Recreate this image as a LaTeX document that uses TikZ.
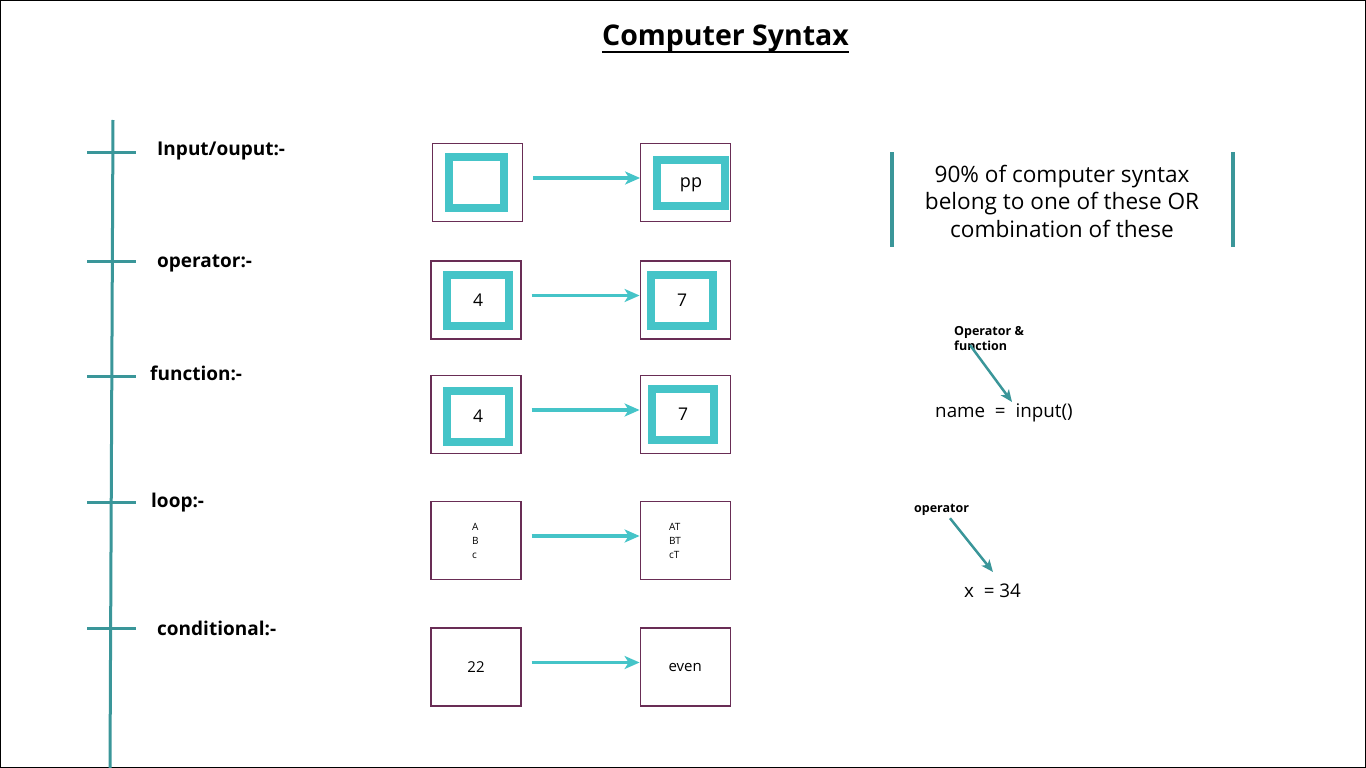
\documentclass[tikz,border=0pt]{standalone}
\usepackage{fontspec}
\setmainfont{Open Sans}
\usepackage{xcolor}
\usepackage{tikz}
\usetikzlibrary{positioning, arrows.meta, calc}
\definecolor{syntaxteal}{RGB}{58, 150, 153}
\definecolor{syntaxcyan}{RGB}{69, 196, 200}
\definecolor{syntaxplum}{RGB}{105, 45, 85}

\tikzset{
  outerbox/.style={draw=syntaxplum, line width=1.2pt, minimum width=90pt, minimum height=78pt, inner sep=0pt, font=\fontsize{15}{18}\selectfont},
  innerbox/.style={draw=syntaxcyan, line width=8pt, minimum width=62pt, minimum height=51pt, inner sep=0pt, font=\fontsize{17.5}{20}\selectfont},
  steplabel/.style={anchor=base west, inner sep=0pt, font=\bfseries\fontsize{19}{23}\selectfont},
  flowarrow/.style={draw=syntaxcyan, line width=3.5pt, shorten <=10pt, -{Stealth[length=15pt, width=13pt, inset=4pt]}},
  tagarrow/.style={draw=syntaxteal, line width=2.5pt, -{Stealth[length=12pt, width=10pt, inset=3pt]}},
  tagtext/.style={inner sep=0pt, align=left, font=\bfseries\fontsize{12.5}{15.5}\selectfont},
  codetext/.style={anchor=base west, inner sep=0pt, font=\fontsize{18.8}{22}\selectfont}
}

\begin{document}
\begin{tikzpicture}[x=1pt, y=-1pt]
    \useasboundingbox (0,0) rectangle (1366,768);
    \draw[line width=1pt] (0.5,0.5) rectangle (1365.5,767.5);

    % heading
    \node[anchor=base, inner sep=0pt, font=\bfseries\fontsize{28.5}{34}\selectfont] (title) at (725.5,46) {Computer Syntax};
    \draw[line width=2pt] ([yshift=-6.5pt]title.base west) -- ([yshift=-6.5pt]title.base east);

    % timeline with the five kinds
    \draw[syntaxteal, line width=3pt] (113,120) -- (110,768);
    \foreach \y in {152, 261, 376, 502, 628}
        \draw[syntaxteal, line width=3pt] (87,\y) -- (136,\y);

    \node[steplabel] (lblio) at (157,155) {Input/ouput:-};
    \node[steplabel] (lblop) at (157,267) {operator:-};
    \node[steplabel] (lblfn) at (150,380) {function:-};
    \node[steplabel] (lblloop) at (151,507) {loop:-};
    \node[steplabel] (lblcond) at (157,635) {conditional:-};

    % example boxes
    \node[outerbox] (in1) at (477.5,182.5) {};
    \node[outerbox, right=117pt of in1] (out1) {};
    \node[outerbox] (in2) at (476,300) {};
    \node[outerbox, right=118pt of in2] (out2) {};
    \node[outerbox] (in3) at (476,414.5) {};
    \node[outerbox, right=118pt of in3] (out3) {};
    \node[outerbox, align=left, text width=8pt, font=\fontsize{10}{14}\selectfont] (in4) at (476,540.5) {A\\B\\c};
    \node[outerbox, right=118pt of in4, align=left, text width=32pt, font=\fontsize{10}{14}\selectfont] (out4) {AT\\BT\\cT};
    \node[outerbox] (in5) at (476,667) {22};
    \node[outerbox, right=118pt of in5] (out5) {even};

    \node[innerbox, minimum width=55pt] (in1i) at (476.5,182.5) {};
    \node[innerbox, minimum width=68pt, minimum height=46pt, text depth=0pt, font=\fontsize{18}{22}\selectfont] (out1i) at (691,183) {pp};
    \node[innerbox] (in2i) at (478,300.5) {4};
    \node[innerbox] (out2i) at (682,300.5) {7};
    \node[innerbox] (in3i) at (478,416.5) {4};
    \node[innerbox] (out3i) at (683,414) {7};

    \foreach \i in {1,...,5}
        \draw[flowarrow] ([yshift=4.5pt]in\i.east) -- ([yshift=4.5pt]out\i.west);

    % note on the right
    \node[inner sep=0pt, align=center, font=\fontsize{22.6}{27.5}\selectfont] (note) at (1062,201) {90\% of computer syntax\\belong to one of these OR\\combination of these};
    \draw[syntaxteal, line width=3.5pt] (892,152) -- (892,247);
    \draw[syntaxteal, line width=3.5pt] (1233,152) -- (1233,247);

    % worked examples
    \node[tagtext, anchor=north west] (tagopfn) at (954,326) {Operator \&\\function};
    \node[codetext] (code1) at (935,417) {name\ \ =\ \ input()};
    \coordinate (namecall) at (1012,402);
    \draw[tagarrow] ([xshift=16pt, yshift=6pt]tagopfn.south west) -- (namecall);

    \node[tagtext, anchor=base west] (tagop) at (914,512) {operator};
    \node[codetext] (code2) at (964,597) {x\ \ = 34};
    \coordinate (assign) at (993,572);
    \draw[tagarrow] ([xshift=36pt, yshift=-3pt]tagop.south west) -- (assign);
\end{tikzpicture}
\end{document}
